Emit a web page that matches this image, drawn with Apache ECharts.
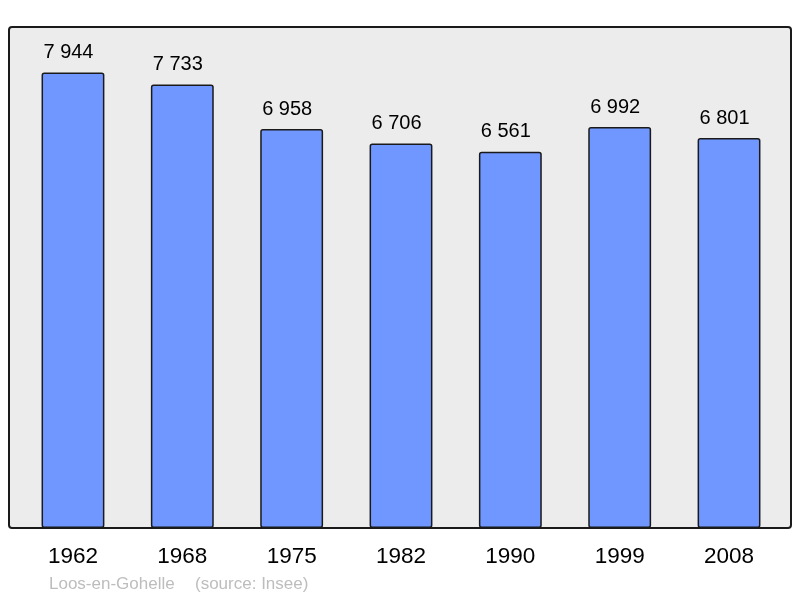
<!DOCTYPE html>
<html><head><meta charset="utf-8">
<script src="https://cdn.jsdelivr.net/npm/echarts@6/dist/echarts.min.js"></script>
<style>html,body{margin:0;padding:0;background:#fff}#c{width:800px;height:598px}</style>
</head><body><div id="c"></div>
<script>
const years = ['1962','1968','1975','1982','1990','1999','2008'];
const population = [7944, 7733, 6958, 6706, 6561, 6992, 6801];
const commune = 'Loos-en-Gohelle';
const source = '(source: Insee)';

const fmt = v => String(v).replace(/\B(?=(\d{3})+(?!\d))/g, ' ');
const chart = echarts.init(document.getElementById('c'), null, {renderer:'canvas'});
chart.setOption({
  animation:false,
  backgroundColor:'#fff',
  textStyle:{fontFamily:'Liberation Sans, Arial, sans-serif'},
  grid:{left:18.3, right:16.3, top:27, bottom:70, containLabel:false},
  graphic:[
    {type:'rect', z:0, shape:{x:9, y:27, width:782, height:501, r:3},
     style:{fill:'#ececec', stroke:'#1a1a1a', lineWidth:2}},
    {type:'text', z:5, left:49, top:576,
     style:{text:commune, fill:'#bdbdbd', font:'17px Liberation Sans, Arial, sans-serif'}},
    {type:'text', z:5, left:195, top:576,
     style:{text:source, fill:'#bdbdbd', font:'17px Liberation Sans, Arial, sans-serif'}}
  ],
  xAxis:{type:'category', data:years, boundaryGap:true,
    axisLine:{show:false}, axisTick:{show:false},
    axisLabel:{color:'#000', fontSize:22.5, margin:17, fontFamily:'Liberation Sans, Arial, sans-serif'}},
  yAxis:{type:'value', min:0, max:8738, show:false, splitLine:{show:false}},
  series:[{type:'bar', data:population, barWidth:'57.5%',
    itemStyle:{color:'#7097ff', borderColor:'#1a1a1a', borderWidth:1.5, borderRadius:2},
    label:{show:true, position:'top', distance:10, offset:[-4.5,0], color:'#000', fontSize:20,
      fontFamily:'Liberation Sans, Arial, sans-serif', formatter:p=>fmt(p.value)}}]
});
</script></body></html>
